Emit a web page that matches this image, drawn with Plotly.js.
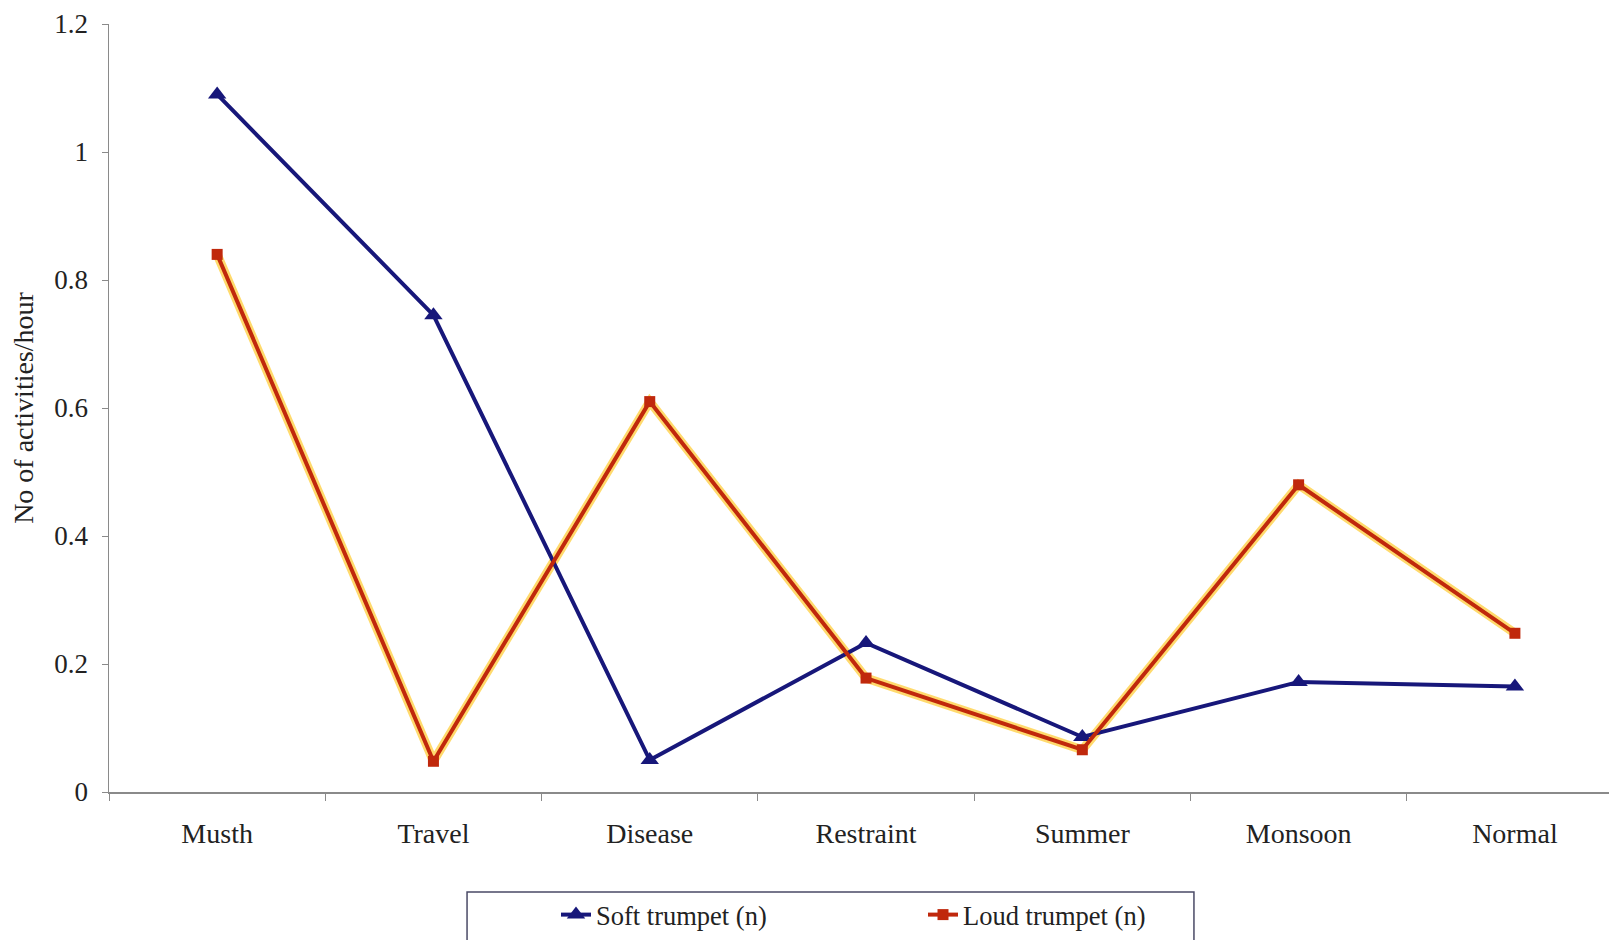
<!DOCTYPE html>
<html>
<head>
<meta charset="utf-8">
<script src="https://cdn.plot.ly/plotly-3.0.1.min.js"></script>
<style>
  html, body { margin: 0; padding: 0; background: #ffffff; }
  #chart { width: 1609px; height: 940px; }
</style>
</head>
<body>
<div id="chart"></div>
<script>
// Trumpeting rate per condition
const conditions = ["Musth", "Travel", "Disease", "Restraint", "Summer", "Monsoon", "Normal"];
const softTrumpet = [1.09, 0.745, 0.05, 0.233, 0.086, 0.172, 0.165];
const loudTrumpet = [0.84, 0.048, 0.61, 0.178, 0.066, 0.48, 0.248];
const seriesNames = ["Soft trumpet (n)", "Loud trumpet (n)"];

const serif = "Liberation Serif, Times New Roman, serif";
const navy = "#17177a";
const red = "#c0280c";

const traces = [
  // warm yellow halo under the red line
  {
    x: conditions, y: loudTrumpet, type: "scatter", mode: "lines",
    line: { color: "rgba(255,205,60,0.75)", width: 9 },
    showlegend: false, hoverinfo: "skip"
  },
  {
    x: conditions, y: softTrumpet, type: "scatter", mode: "lines+markers",
    name: seriesNames[0],
    line: { color: navy, width: 4 },
    marker: { symbol: "triangle-up", size: 16, color: navy }
  },
  {
    x: conditions, y: loudTrumpet, type: "scatter", mode: "lines+markers",
    name: seriesNames[1],
    line: { color: red, width: 4 },
    marker: { symbol: "square", size: 11, color: red }
  }
];

const layout = {
  width: 1609, height: 940,
  margin: { l: 109, r: 0, t: 24, b: 148 },
  paper_bgcolor: "#ffffff", plot_bgcolor: "#ffffff",
  font: { family: serif, size: 26, color: "#222222" },
  showlegend: true,
  xaxis: {
    type: "category",
    range: [-0.5, 6.435],
    showgrid: false, zeroline: false,
    showline: true, linecolor: "#8a8a8a", linewidth: 1.5,
    ticks: "outside", tickson: "boundaries", ticklen: 7, tickcolor: "#8a8a8a",
    ticklabelstandoff: 16,
    tickfont: { family: serif, size: 28, color: "#222222" }
  },
  yaxis: {
    range: [0, 1.2], dtick: 0.2, tick0: 0,
    showgrid: false, zeroline: false,
    showline: true, linecolor: "#8a8a8a", linewidth: 1.5,
    ticks: "outside", ticklen: 6, tickcolor: "#8a8a8a",
    ticklabelstandoff: 8,
    tickfont: { family: serif, size: 27, color: "#222222" },
    title: { text: "No of activities/hour", font: { family: serif, size: 28, color: "#222222" }, standoff: 12 }
  },
  legend: {
    orientation: "h",
    x: 0.298, xanchor: "left",
    y: -0.160, yanchor: "middle",
    bgcolor: "rgba(0,0,0,0)", borderwidth: 0,
    entrywidth: 322, entrywidthmode: "pixels",
    font: { family: serif, size: 26.5, color: "#222222" }
  },
  shapes: [
    {
      type: "rect", xref: "paper", yref: "paper",
      x0: 0.2387, x1: 0.7233, y0: -0.1302, y1: -0.205,
      line: { color: "#4a4a66", width: 1.5 },
      fillcolor: "rgba(0,0,0,0)"
    }
  ]
};

Plotly.newPlot("chart", traces, layout, { displayModeBar: false, staticPlot: true });
</script>
</body>
</html>
